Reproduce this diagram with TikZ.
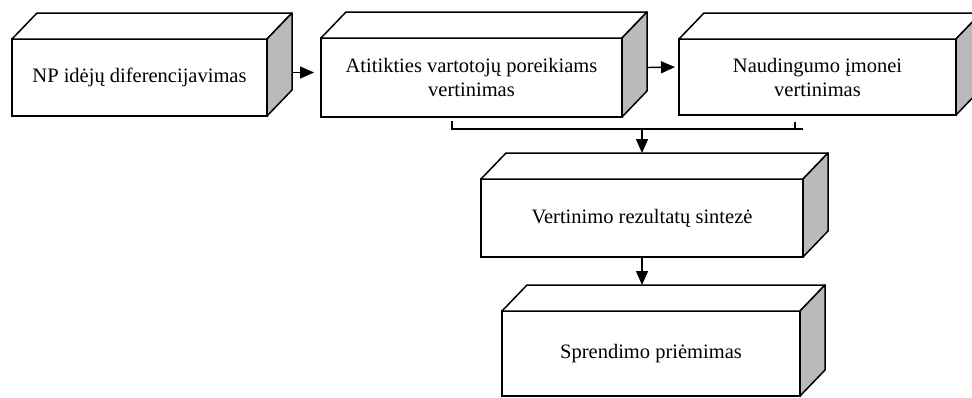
\documentclass[tikz,border=0pt]{standalone}
\usepackage{fontspec}
\setmainfont{Liberation Serif}
\usetikzlibrary{arrows.meta}

\tikzset{
  blokas/.style={draw, fill=white, line width=1.5pt, outer sep=0pt, inner sep=2pt,
    align=center, font=\fontsize{20.5}{24}\selectfont},
  briauna/.style={draw, line width=1.5pt, line join=round},
  rodykle/.style={line width=1.4pt, -{Triangle[length=14pt,width=12pt]}},
}

\begin{document}
\begin{tikzpicture}[x=1pt,y=-1pt]
\clip (0,0) rectangle (972,397);
\fill[white] (0,0) rectangle (972,397);

\node[blokas, minimum width=255pt, minimum height=77pt] (idejos) at (139.5,77.5) {NP idėjų diferencijavimas};
\node[blokas, minimum width=301pt, minimum height=79pt] (atitiktis) at (471.5,77.5) {Atitikties vartotojų poreikiams\\vertinimas};
\node[blokas, minimum width=277pt, minimum height=76pt] (nauda) at (817.5,77) {Naudingumo įmonei\\vertinimas};
\node[blokas, minimum width=322pt, minimum height=78pt] (sinteze) at (642,218) {Vertinimo rezultatų sintezė};
\node[blokas, minimum width=298pt, minimum height=85pt] (sprendimas) at (651,353.5) {Sprendimo priėmimas};

% virsus ir sonas
\foreach \n in {idejos,atitiktis,nauda,sinteze,sprendimas}{
  \filldraw[briauna, fill=white] (\n.north west) -- ++(25,-26) -- ([shift={(25,-26)}]\n.north east) -- (\n.north east) -- cycle;
  \filldraw[briauna, fill=black!27] (\n.north east) -- ++(25,-26) -- ([shift={(25,-26)}]\n.south east) -- (\n.south east) -- cycle;
}

\draw[rodykle, shorten >=7pt] ([shift={(25,-5)}]idejos.east) -- ([yshift=5pt]atitiktis.west);
\draw[rodykle, shorten >=4pt] ([shift={(25,-10)}]atitiktis.east) -- ([yshift=10pt]nauda.west);

% jungtis
\coordinate (kaire) at (452,121);
\coordinate (desine) at (795,122);
\coordinate (jung) at (642,129);
\coordinate (s4top) at ([yshift=26pt]sinteze.north);
\coordinate (s5top) at ([yshift=26pt]sprendimas.north);
\draw[line width=1.4pt] (kaire) -- (452,129) -- (803,129);
\draw[line width=1.4pt] (desine) -- (795,129);
\draw[rodykle] (jung) -- (jung |- s4top);
\draw[rodykle] (sinteze.south) -- (sinteze.south |- s5top);
\end{tikzpicture}
\end{document}
